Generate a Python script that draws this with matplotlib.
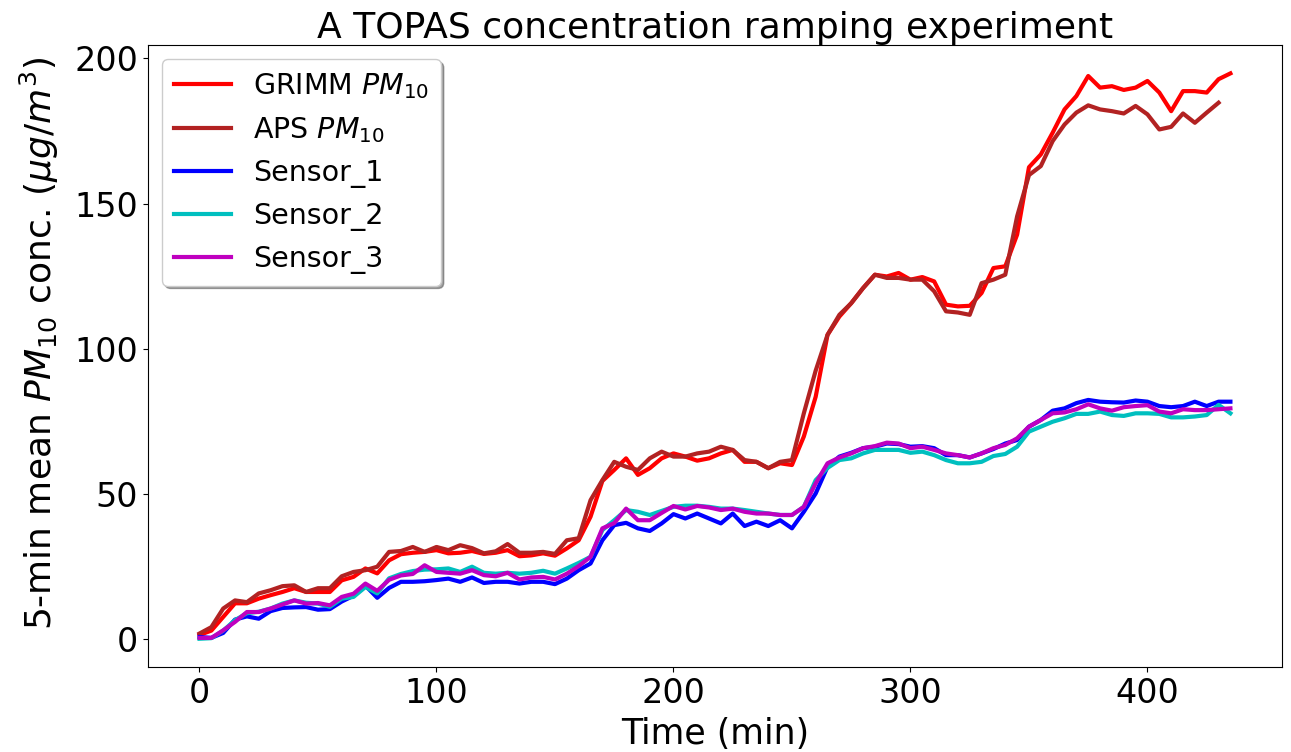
import matplotlib
matplotlib.use("Agg")
import matplotlib.pyplot as plt

# sampling times (min), 5-min means
time = list(range(0, 440, 5))
time_aps = time[:-1]

grimm = [1.5, 3.0, 7.7, 12.4, 12.4, 14.0, 15.2, 16.3, 17.6, 16.3, 16.3, 16.3, 20.3, 21.5, 24.4, 22.7, 27.2, 29.3,
         29.8, 30.1, 30.7, 29.6, 29.8, 30.4, 29.4, 29.8, 30.7, 28.6, 28.9, 29.6, 28.8, 31.3, 34.1, 42.2,
         54.5, 58.3, 62.3, 56.6, 58.9, 62.3, 64.0, 62.9, 61.5, 62.3, 64.0, 65.2, 61.1, 61.1, 58.9, 60.6, 60.0, 69.8, 83.5,
         104.8, 111.1, 115.7, 120.9, 125.5, 124.9, 126.1, 123.8, 124.7, 123.2, 115.2, 114.6, 114.8, 119.2, 127.8, 128.4, 139.3,
         162.5, 166.9, 174.4, 182.4, 187.0, 193.9, 189.9, 190.4, 189.1, 189.9, 192.2, 188.2, 181.8, 188.7, 188.7, 188.2, 192.8, 194.8]

aps = [2.0, 4.2, 10.6, 13.4, 12.8, 15.8, 16.9, 18.3, 18.6, 16.3, 17.6, 17.6, 21.7, 23.2, 23.8, 25.0, 30.1, 30.4,
       31.8, 30.1, 31.8, 30.7, 32.4, 31.4, 29.6, 30.3, 32.8, 29.8, 29.8, 30.1, 29.4, 34.1, 34.8, 47.9,
       54.8, 61.1, 59.4, 58.3, 62.3, 64.6, 62.9, 62.9, 64.0, 64.6, 66.3, 65.2, 61.7, 61.1, 58.9, 61.1, 61.7, 77.8, 92.5,
       104.8, 111.7, 115.7, 120.9, 125.5, 124.4, 124.4, 123.8, 123.8, 119.8, 112.9, 112.5, 111.7, 122.6, 123.8, 125.5, 145.6,
       159.8, 162.9, 171.5, 177.2, 181.3, 183.8, 182.4, 181.8, 181.0, 183.6, 180.7, 175.5, 176.4, 181.0, 177.8, 181.3, 184.7]

sensor1 = [0.8, 0.5, 2.2, 6.8, 7.9, 7.1, 9.7, 10.8, 11.0, 11.1, 10.2, 10.4, 13.0, 15.0, 18.5, 14.3, 17.7, 19.8,
           19.8, 20.0,
           20.4, 20.9, 19.8, 21.3, 19.4, 19.8, 19.8, 19.2, 19.8, 19.8, 19.0, 20.9, 23.8, 26.1, 34.1, 39.3, 40.1, 38.2, 37.3, 39.9, 43.1,
           41.6, 43.3, 41.6, 39.9, 43.3, 39.0, 40.5, 39.0, 41.0, 38.2, 43.9, 50.2,
           59.4, 62.9, 64.2, 65.8, 66.3, 67.4, 67.2, 66.3, 66.5, 65.8, 63.4, 63.4, 62.6, 64.0, 65.5, 67.4, 68.6,
           73.2, 75.5, 78.7, 79.5, 81.3, 82.4, 81.8, 81.6, 81.5, 82.2, 81.8, 80.3, 79.9, 80.3, 81.8, 80.3, 81.8, 81.8]

sensor2 = [0.2, 0.4, 3.0, 6.6, 9.0, 9.5, 10.6, 12.3, 13.4, 12.6, 12.3, 11.2, 14.0, 14.6, 18.0, 15.8, 21.0, 22.5,
           23.5, 24.0,
           24.1, 24.4, 23.2, 25.0, 22.9, 22.6, 22.9, 22.6, 22.9, 23.6, 22.6, 24.4, 26.3, 28.4, 37.6, 41.0, 44.5, 43.9, 42.8, 44.2, 45.6,
           46.0, 46.0, 45.6, 45.0, 45.0, 44.5, 43.9, 43.3, 42.8, 42.8, 45.6, 54.8,
           59.0, 61.7, 62.3, 64.0, 65.2, 65.2, 65.2, 64.2, 64.6, 63.4, 61.7, 60.6, 60.6, 61.1, 63.1, 63.8, 66.3,
           71.5, 73.2, 74.9, 76.1, 77.6, 77.6, 78.4, 77.2, 76.9, 77.8, 77.8, 77.6, 76.4, 76.4, 76.7, 77.2, 80.7, 77.8]

sensor3 = [0.5, 0.5, 3.1, 6.0, 9.4, 9.4, 10.6, 12.0, 13.4, 12.3, 12.5, 11.7, 14.6, 15.7, 19.2, 16.7, 20.5, 22.0,
           22.5, 25.5,
           23.2, 22.9, 22.6, 23.8, 22.1, 21.7, 22.9, 20.6, 21.3, 21.5, 20.6, 22.6, 25.2, 28.4, 38.2, 40.0, 45.0, 41.0, 41.0, 43.5, 45.9,
           44.7, 45.9, 45.4, 44.5, 45.0, 43.9, 43.3, 43.3, 42.8, 42.8, 45.6, 53.7,
           60.6, 62.6, 64.0, 65.8, 66.5, 67.7, 67.4, 65.8, 66.3, 65.2, 64.0, 63.4, 62.6, 64.0, 65.8, 66.9, 69.2,
           73.2, 75.5, 77.8, 78.1, 79.2, 80.9, 79.5, 78.7, 79.9, 80.3, 80.6, 78.4, 77.8, 79.2, 78.9, 78.9, 79.2, 79.5]

########################################################################################

fig = plt.figure(figsize=(12.91, 7.52), dpi=100)
ax = fig.add_axes([0.1146, 0.113, 0.8784, 0.827])

lw = 3
ax.plot(time, grimm, color='r', lw=lw, label='GRIMM $PM_{10}$')
ax.plot(time_aps, aps, color='firebrick', lw=lw, label='APS $PM_{10}$')
ax.plot(time, sensor1, color='b', lw=lw, label='Sensor_1')
ax.plot(time, sensor2, color='c', lw=lw, label='Sensor_2')
ax.plot(time, sensor3, color='m', lw=lw, label='Sensor_3')

ax.set_title('A TOPAS concentration ramping experiment', fontsize=26, pad=5)
ax.set_xlabel('Time (min)', fontsize=25, labelpad=5)
ax.set_ylabel('5-min mean $PM_{10}$ conc. ($\\mu g/m^3$)', fontsize=26)
ax.yaxis.set_label_coords(-0.077, 0.52)
ax.tick_params(labelsize=24)
ax.set_xticks([0, 100, 200, 300, 400])
ax.set_yticks([0, 50, 100, 150, 200])

ax.legend(loc='upper left', fontsize=20.5, shadow=True)

fig.savefig('out.png', dpi=100)
